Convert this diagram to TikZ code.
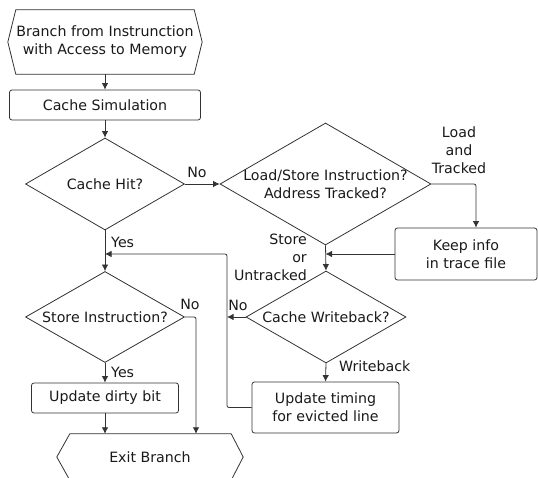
\documentclass[tikz,border=0pt]{standalone}
\usepackage{fontspec}
\setmainfont{DejaVu Sans}
\usetikzlibrary{shapes.geometric,arrows.meta,calc}

\begin{document}
\begin{tikzpicture}[x=1pt,y=-1pt,
  every node/.style={font=\fontsize{14.2}{18}\selectfont, text=black!90},
  line/.style={draw=black!80, line width=0.8pt},
  flow/.style={line, -{Latex[length=6.5pt,width=6.5pt]}},
  procbox/.style={line, rectangle, rounded corners=2.5pt, inner sep=0pt, align=center},
  decision/.style={line, diamond, inner sep=0pt},
  terminal/.style={rectangle, inner sep=0pt},
  lbl/.style={inner sep=0pt, align=center}
]
\clip (0,0) rectangle (538,478);
\useasboundingbox (0,0) rectangle (538,478);

% entry and exit terminals (hexagons drawn from their anchors)
\node[terminal, minimum width=194pt, minimum height=64pt, align=center] (start) at (105,42)
  {Branch from Instrunction\\with Access to Memory};
\draw[line] ([xshift=8pt]start.north west) -- ([xshift=-8pt]start.north east)
  -- (start.east) -- ([xshift=-8pt]start.south east) -- ([xshift=8pt]start.south west)
  -- (start.west) -- cycle;

\node[terminal, minimum width=186pt, minimum height=46pt] (exit) at (150,457) {Exit Branch};
\draw[line] ([xshift=13pt]exit.north west) -- ([xshift=-12pt]exit.north east)
  -- (exit.east) -- ([xshift=-12pt]exit.south east) -- ([xshift=13pt]exit.south west)
  -- (exit.west) -- cycle;

% process steps
\node[procbox, minimum width=191pt, minimum height=30pt] (sim) at (105,105) {Cache Simulation};
\node[procbox, minimum width=142pt, minimum height=52pt] (keep) at (466,254) {Keep info\\in trace file};
\node[procbox, minimum width=147pt, minimum height=51pt] (upd) at (325.5,407.5) {Update timing\\for evicted line};
\node[procbox, minimum width=147pt, minimum height=30pt] (dirty) at (105,398) {Update dirty bit};

% decisions
\node[decision, minimum width=159pt, minimum height=92pt] (hit) at (105,184) {};
\node[lbl] at (hit.center) {Cache Hit?};
\node[decision, minimum width=211pt, minimum height=122pt] (ls) at (325.5,184) {};
\node[lbl] at (ls.center) {Load/Store Instruction?\\Address Tracked?};
\node[decision, minimum width=160pt, minimum height=92pt] (wb) at (326,317) {};
\node[lbl] at (wb.center) {Cache Writeback?};
\node[decision, minimum width=159pt, minimum height=91pt] (st) at (105,317) {};
\node[lbl] at (st.center) {Store Instruction?};

% join points
\coordinate (back) at (227,254);
\coordinate (loadpt) at (476,184);
\coordinate (nopt) at (196,317);

% connectors
\draw[flow] (start.south) -- (sim.north);
\draw[flow] (sim.south) -- (hit.north);
\draw[flow] (hit.east) -- (ls.west);
\draw[flow, rounded corners=2pt] (ls.east) -- (loadpt) -- (loadpt |- keep.north);
\draw[flow] (keep.west) -- (keep.west -| ls.south);
\draw[flow] (ls.south) -- (wb.north);
\draw[flow] (wb.west) -- (wb.west -| back);
\draw[flow] (wb.south) -- (upd.north);
\draw[flow, rounded corners=2pt] (upd.west) -- (upd.west -| back) -- (back) -- (back -| hit.south);
\draw[flow] (hit.south) -- (st.north);
\draw[flow, rounded corners=2pt] (st.east) -- (nopt) -- (nopt |- exit.north);
\draw[flow] (st.south) -- (dirty.north);
\draw[flow] (dirty.south) -- (dirty.south |- exit.north);

% branch labels
\node[lbl] at (197,172) {No};
\node[lbl] at (459,150) {Load\\and\\Tracked};
\node[lbl, align=right, anchor=east] at (307,257) {Store\\or\\Untracked};
\node[lbl] at (238,305) {No};
\node[lbl, anchor=west] at (339,366) {Writeback};
\node[lbl, anchor=west] at (111,242) {Yes};
\node[lbl] at (190,304) {No};
\node[lbl, anchor=west] at (111,372) {Yes};
\end{tikzpicture}
\end{document}
